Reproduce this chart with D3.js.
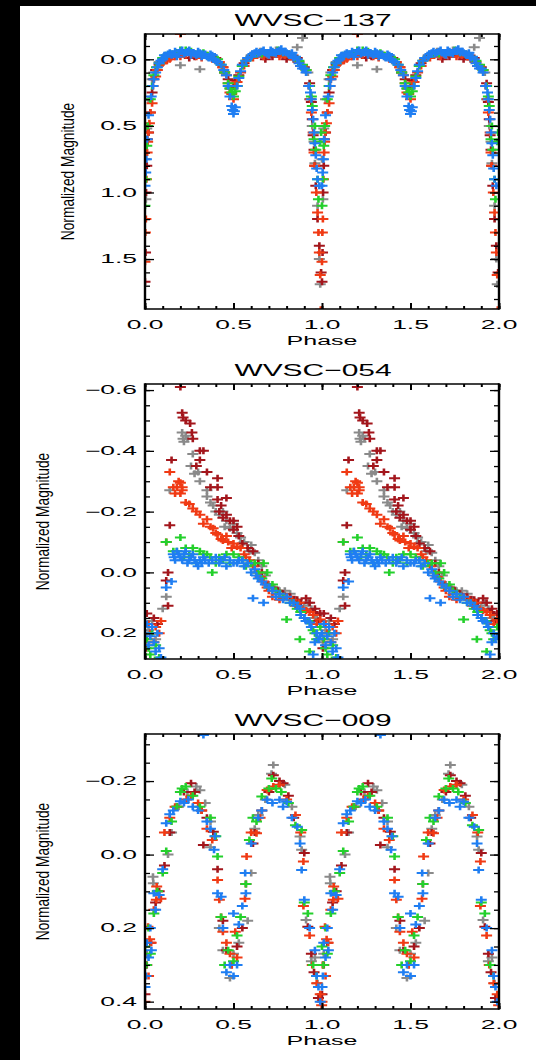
<!DOCTYPE html>
<html>
<head>
<meta charset="utf-8">
<script src="https://cdn.jsdelivr.net/npm/d3@7"></script>
<style>
  html, body { margin: 0; padding: 0; background: #000; }
  svg { display: block; }
</style>
</head>
<body>
<svg id="chart" width="536" height="1060"></svg>
<script>
// ---- shared axis data ----
const phaseTicks = [0, 0.5, 1, 1.5, 2];
const phaseTickLabels = ["0.0", "0.5", "1.0", "1.5", "2.0"];
const titles = ["WVSC\u2212137", "WVSC\u2212054", "WVSC\u2212009"];
const seriesNames = ["grey", "darkred", "red", "green", "blue"];
const seriesColors = ["#8a8a8a", "#a3161c", "#f03a14", "#24d02c", "#1f7ef2"];

// ---- WVSC-137 : [phase, normalized magnitude] ----
const w137Grey = [[0.0,0.75],[0.005,1.05],[0.01,0.52],[0.02,0.3],[0.04,0.15],[0.05,0.1],[0.08,0.02],[0.12,-0.02],[0.15,-0.03],[0.2,0.045],[0.25,-0.05],[0.31,0.075],[0.33,-0.04],[0.37,-0.02],[0.42,0.03],[0.45,0.1],[0.48,0.22],[0.52,0.2],[0.55,0.05],[0.6,-0.03],[0.65,-0.06],[0.7,-0.05],[0.74,-0.07],[0.78,-0.04],[0.82,-0.04],[0.86,-0.09],[0.89,-0.16],[0.92,0.1],[0.93,0.3],[0.945,0.5],[0.955,0.62],[0.96,0.78],[0.975,1.1],[0.985,1.5],[0.99,1.69]];
const w137DarkRed = [[0.0,1.67],[0.003,1.45],[0.006,1.0],[0.01,0.8],[0.013,0.6],[0.02,0.55],[0.03,0.4],[0.04,0.25],[0.05,0.15],[0.06,0.08],[0.08,0.04],[0.1,0.02],[0.12,0.0],[0.15,-0.02],[0.18,-0.03],[0.22,-0.04],[0.25,-0.01],[0.28,-0.02],[0.33,-0.03],[0.36,-0.02],[0.4,-0.01],[0.44,0.06],[0.45,0.1],[0.47,0.15],[0.485,0.22],[0.5,0.2],[0.51,0.16],[0.53,0.12],[0.56,0.03],[0.6,-0.02],[0.62,-0.03],[0.66,-0.04],[0.68,0.0],[0.72,-0.02],[0.75,-0.04],[0.78,-0.03],[0.8,0.0],[0.84,0.0],[0.86,-0.01],[0.88,0.05],[0.9,0.06],[0.93,0.18],[0.94,0.32],[0.945,0.45],[0.95,0.57],[0.955,0.68],[0.96,0.8],[0.965,0.95],[0.975,1.2],[0.985,1.4],[0.995,1.6]];
const w137Red = [[0.0,1.52],[0.002,1.3],[0.005,1.2],[0.008,0.9],[0.012,0.7],[0.015,0.62],[0.018,0.55],[0.025,0.48],[0.03,0.4],[0.04,0.33],[0.045,0.2],[0.06,0.13],[0.07,0.08],[0.09,0.03],[0.1,0.03],[0.12,0.01],[0.14,0.0],[0.17,-0.02],[0.2,-0.19],[0.2,-0.02],[0.23,-0.03],[0.26,-0.03],[0.29,-0.02],[0.32,-0.01],[0.35,-0.03],[0.38,0.0],[0.42,0.02],[0.44,0.06],[0.46,0.12],[0.47,0.18],[0.48,0.25],[0.49,0.26],[0.5,0.3],[0.51,0.2],[0.52,0.17],[0.54,0.1],[0.56,0.05],[0.58,0.0],[0.61,-0.01],[0.64,-0.04],[0.67,-0.02],[0.7,-0.03],[0.73,-0.04],[0.76,-0.02],[0.79,-0.03],[0.82,-0.02],[0.85,0.0],[0.87,0.02],[0.89,0.05],[0.91,0.08],[0.925,0.2],[0.935,0.3],[0.94,0.4],[0.95,0.55],[0.955,0.7],[0.958,0.8],[0.968,1.0],[0.975,1.15],[0.98,1.3],[0.985,1.45],[0.99,1.62],[0.993,1.88]];
const w137Green = [[0.0,1.1],[0.005,0.9],[0.01,0.65],[0.015,0.5],[0.03,0.3],[0.04,0.2],[0.05,0.12],[0.065,0.06],[0.08,0.03],[0.1,-0.01],[0.12,-0.03],[0.15,-0.04],[0.18,-0.05],[0.2,-0.07],[0.23,-0.07],[0.26,-0.06],[0.3,-0.04],[0.33,-0.05],[0.36,-0.02],[0.39,-0.01],[0.41,0.0],[0.43,0.04],[0.45,0.1],[0.47,0.18],[0.48,0.22],[0.49,0.25],[0.5,0.28],[0.51,0.24],[0.52,0.2],[0.53,0.13],[0.55,0.05],[0.57,0.01],[0.6,-0.02],[0.63,-0.04],[0.66,-0.04],[0.69,-0.05],[0.72,-0.05],[0.75,-0.07],[0.78,-0.05],[0.81,-0.04],[0.84,-0.02],[0.87,0.01],[0.89,0.04],[0.91,0.08],[0.93,0.2],[0.94,0.28],[0.945,0.35],[0.955,0.6],[0.96,0.5],[0.965,0.68],[0.975,0.9],[0.98,1.05],[0.99,0.62],[0.995,0.55]];
const w137Blue = [[0.0,0.95],[0.004,0.85],[0.008,0.75],[0.012,0.6],[0.02,0.42],[0.035,0.28],[0.045,0.2],[0.05,0.15],[0.06,0.1],[0.07,0.06],[0.08,0.03],[0.09,0.01],[0.1,0.0],[0.11,-0.03],[0.12,-0.02],[0.13,-0.04],[0.14,-0.05],[0.15,-0.03],[0.16,-0.04],[0.17,-0.06],[0.18,-0.02],[0.19,-0.04],[0.2,-0.06],[0.21,-0.07],[0.22,-0.04],[0.23,-0.05],[0.24,-0.06],[0.25,-0.07],[0.26,-0.03],[0.27,-0.05],[0.28,-0.04],[0.29,-0.03],[0.3,-0.06],[0.31,-0.05],[0.32,-0.02],[0.33,-0.03],[0.34,-0.04],[0.35,-0.02],[0.36,-0.01],[0.37,-0.04],[0.38,-0.03],[0.39,0.0],[0.4,0.01],[0.41,0.02],[0.43,0.04],[0.445,0.08],[0.46,0.12],[0.47,0.2],[0.48,0.28],[0.49,0.35],[0.495,0.38],[0.5,0.41],[0.505,0.39],[0.51,0.36],[0.52,0.2],[0.53,0.14],[0.54,0.09],[0.55,0.04],[0.57,0.01],[0.58,-0.01],[0.6,-0.02],[0.61,-0.04],[0.62,-0.05],[0.63,-0.06],[0.64,-0.04],[0.65,-0.05],[0.66,-0.06],[0.67,-0.07],[0.68,-0.05],[0.69,-0.04],[0.7,-0.03],[0.71,-0.07],[0.72,-0.06],[0.73,-0.05],[0.74,-0.04],[0.75,-0.06],[0.76,-0.07],[0.77,-0.08],[0.78,-0.05],[0.79,-0.06],[0.8,-0.05],[0.81,-0.04],[0.82,-0.03],[0.83,-0.05],[0.84,-0.01],[0.85,-0.02],[0.86,0.0],[0.87,0.03],[0.88,0.05],[0.89,0.07],[0.9,0.07],[0.91,0.1],[0.925,0.2],[0.935,0.25],[0.94,0.3],[0.945,0.38],[0.95,0.45],[0.955,0.55],[0.96,0.63],[0.965,0.72],[0.97,0.82],[0.975,0.9],[0.985,0.95]];
const w137MagTicks = [0, 0.5, 1.0, 1.5];
const w137MagLabels = ["0.0", "0.5", "1.0", "1.5"];

// ---- WVSC-054 ----
const w054Grey = [[0.005,0.23],[0.02,0.19],[0.04,0.16],[0.06,0.22],[0.1,0.12],[0.12,0.08],[0.14,-0.27],[0.21,-0.46],[0.215,-0.44],[0.22,-0.43],[0.23,-0.45],[0.24,-0.44],[0.27,-0.39],[0.26,-0.35],[0.28,-0.325],[0.3,-0.33],[0.31,-0.3],[0.35,-0.27],[0.35,-0.25],[0.37,-0.23],[0.385,-0.22],[0.4,-0.2],[0.42,-0.19],[0.44,-0.2],[0.45,-0.15],[0.46,-0.17],[0.48,-0.145],[0.5,-0.16],[0.52,-0.13],[0.54,-0.115],[0.56,-0.1],[0.59,-0.07],[0.6,-0.09],[0.62,-0.065],[0.64,-0.04],[0.66,-0.02],[0.68,0.01],[0.7,0.04],[0.73,0.05],[0.76,0.06],[0.79,0.06],[0.82,0.07],[0.85,0.09],[0.875,0.1],[0.9,0.11],[0.92,0.1],[0.94,0.12],[0.96,0.15],[0.97,0.14],[0.99,0.17]];
const w054DarkRed = [[0.005,0.25],[0.01,0.135],[0.03,0.2],[0.05,0.15],[0.07,0.17],[0.12,0.027],[0.13,0.0],[0.13,0.11],[0.14,-0.155],[0.15,-0.37],[0.2,-0.61],[0.21,-0.525],[0.215,-0.51],[0.23,-0.5],[0.255,-0.49],[0.265,-0.46],[0.27,-0.44],[0.29,-0.35],[0.31,-0.4],[0.33,-0.4],[0.31,-0.37],[0.35,-0.33],[0.37,-0.28],[0.41,-0.31],[0.41,-0.28],[0.41,-0.24],[0.43,-0.22],[0.44,-0.18],[0.46,-0.245],[0.42,-0.2],[0.46,-0.19],[0.48,-0.17],[0.5,-0.14],[0.5,-0.17],[0.52,-0.15],[0.53,-0.12],[0.55,-0.095],[0.58,-0.08],[0.61,-0.07],[0.64,-0.03],[0.66,0.0],[0.69,0.04],[0.72,0.05],[0.75,0.06],[0.78,0.07],[0.82,0.08],[0.84,0.09],[0.86,0.09],[0.88,0.1],[0.91,0.085],[0.93,0.1],[0.95,0.13],[0.96,0.12],[0.98,0.16],[0.99,0.135]];
const w054Red = [[0.01,0.22],[0.02,0.17],[0.03,0.2],[0.05,0.23],[0.06,0.18],[0.08,0.2],[0.09,0.16],[0.12,-0.1],[0.14,-0.33],[0.16,-0.28],[0.17,-0.26],[0.18,-0.28],[0.19,-0.3],[0.2,-0.295],[0.21,-0.28],[0.2,-0.26],[0.21,-0.27],[0.23,-0.23],[0.25,-0.225],[0.27,-0.21],[0.29,-0.2],[0.31,-0.19],[0.33,-0.16],[0.35,-0.175],[0.37,-0.15],[0.385,-0.145],[0.4,-0.13],[0.41,-0.125],[0.43,-0.11],[0.44,-0.105],[0.46,-0.12],[0.47,-0.1],[0.49,-0.08],[0.5,-0.095],[0.52,-0.085],[0.54,-0.08],[0.56,-0.06],[0.57,-0.05],[0.59,-0.04],[0.61,-0.02],[0.63,0.0],[0.65,0.015],[0.67,0.03],[0.69,0.05],[0.7,0.06],[0.72,0.08],[0.74,0.07],[0.76,0.09],[0.78,0.085],[0.8,0.08],[0.83,0.09],[0.85,0.11],[0.87,0.1],[0.89,0.12],[0.91,0.125],[0.93,0.13],[0.95,0.14],[0.97,0.17],[0.99,0.155]];
const w054Green = [[0.01,0.22],[0.02,0.25],[0.03,0.27],[0.04,0.2],[0.06,0.24],[0.08,0.28],[0.12,-0.1],[0.16,-0.07],[0.18,-0.07],[0.2,-0.115],[0.22,-0.05],[0.23,-0.08],[0.25,-0.06],[0.27,-0.08],[0.29,-0.03],[0.31,-0.07],[0.33,-0.06],[0.35,-0.06],[0.37,-0.05],[0.38,0.0],[0.4,-0.03],[0.42,-0.05],[0.44,-0.04],[0.46,-0.06],[0.48,-0.03],[0.5,-0.06],[0.53,-0.05],[0.55,-0.04],[0.57,-0.02],[0.6,-0.03],[0.62,-0.03],[0.64,0.0],[0.66,0.02],[0.67,-0.03],[0.69,0.0],[0.7,0.05],[0.72,0.04],[0.74,0.06],[0.76,0.07],[0.78,0.08],[0.8,0.155],[0.82,0.1],[0.84,0.1],[0.86,0.12],[0.875,0.22],[0.88,0.13],[0.9,0.15],[0.92,0.16],[0.93,0.26],[0.95,0.19],[0.96,0.2],[0.97,0.22],[0.99,0.18]];
const w054Blue = [[0.0,0.2],[0.01,0.17],[0.02,0.24],[0.03,0.21],[0.04,0.18],[0.05,0.23],[0.06,0.26],[0.07,0.2],[0.08,0.25],[0.09,0.28],[0.12,0.05],[0.15,0.03],[0.16,-0.06],[0.165,-0.05],[0.17,-0.04],[0.18,-0.07],[0.19,-0.06],[0.2,-0.05],[0.21,-0.04],[0.22,-0.06],[0.23,-0.07],[0.24,-0.03],[0.25,-0.04],[0.26,-0.05],[0.27,-0.06],[0.28,-0.04],[0.29,-0.03],[0.3,-0.02],[0.31,-0.04],[0.32,-0.03],[0.33,-0.05],[0.34,-0.04],[0.36,-0.03],[0.38,-0.04],[0.4,-0.05],[0.42,-0.03],[0.43,-0.04],[0.45,-0.05],[0.46,-0.02],[0.48,-0.04],[0.5,-0.03],[0.52,-0.03],[0.53,-0.04],[0.55,-0.04],[0.56,-0.02],[0.58,-0.03],[0.6,0.0],[0.61,0.085],[0.62,-0.01],[0.63,0.01],[0.64,0.02],[0.66,0.03],[0.67,0.1],[0.68,0.04],[0.7,0.05],[0.72,0.06],[0.74,0.08],[0.76,0.07],[0.78,0.09],[0.8,0.08],[0.82,0.1],[0.84,0.1],[0.86,0.11],[0.875,0.12],[0.88,0.14],[0.9,0.15],[0.91,0.16],[0.93,0.165],[0.94,0.18],[0.95,0.27],[0.96,0.23],[0.97,0.2],[0.98,0.22],[0.99,0.21]];
const w054MagTicks = [-0.6, -0.4, -0.2, 0, 0.2];
const w054MagLabels = ["\u22120.6", "\u22120.4", "\u22120.2", "0.0", "0.2"];

// ---- WVSC-009 ----
const w009Grey = [[0.005,0.3],[0.01,0.27],[0.045,0.06],[0.047,0.078],[0.07,0.1],[0.13,0.0],[0.15,-0.06],[0.19,-0.13],[0.24,-0.17],[0.29,-0.185],[0.31,-0.175],[0.34,-0.14],[0.37,-0.09],[0.37,-0.02],[0.42,0.2],[0.44,0.26],[0.48,0.336],[0.5,0.27],[0.53,0.24],[0.58,0.18],[0.6,0.05],[0.62,-0.07],[0.64,-0.108],[0.68,-0.15],[0.715,-0.22],[0.725,-0.244],[0.79,-0.19],[0.83,-0.13],[0.876,-0.049],[0.885,-0.013],[0.91,0.178],[0.94,0.29],[0.96,0.28],[0.975,0.35]];
const w009DarkRed = [[0.0,0.38],[0.01,0.3],[0.03,0.24],[0.06,0.13],[0.08,0.1],[0.11,0.03],[0.14,-0.06],[0.18,-0.13],[0.22,-0.17],[0.26,-0.194],[0.28,-0.17],[0.32,-0.12],[0.35,-0.1],[0.386,-0.062],[0.33,-0.026],[0.41,0.04],[0.44,0.18],[0.46,0.26],[0.49,0.3],[0.52,0.25],[0.55,0.2],[0.57,0.08],[0.61,-0.03],[0.62,-0.06],[0.66,-0.12],[0.7,-0.17],[0.725,-0.216],[0.76,-0.2],[0.78,-0.194],[0.81,-0.16],[0.84,-0.1],[0.9,-0.004],[0.92,0.196],[0.94,0.27],[0.955,0.32],[0.98,0.39]];
const w009Red = [[0.0,0.4],[0.005,0.3],[0.017,0.196],[0.02,0.33],[0.026,0.23],[0.035,0.24],[0.05,0.15],[0.064,0.123],[0.066,0.087],[0.09,0.12],[0.11,-0.06],[0.14,-0.1],[0.17,-0.13],[0.235,-0.15],[0.26,-0.16],[0.3,-0.14],[0.32,-0.12],[0.35,-0.07],[0.38,-0.04],[0.41,0.069],[0.42,0.123],[0.43,0.17],[0.44,0.21],[0.46,0.24],[0.48,0.27],[0.49,0.3],[0.51,0.21],[0.52,0.28],[0.565,0.12],[0.574,0.005],[0.6,-0.06],[0.63,-0.058],[0.65,-0.1],[0.69,-0.176],[0.725,-0.185],[0.76,-0.19],[0.8,-0.15],[0.85,-0.108],[0.88,-0.06],[0.895,0.019],[0.895,0.14],[0.93,0.22],[0.945,0.3],[0.97,0.35],[0.99,0.38],[0.998,0.41]];
const w009Green = [[0.0,0.25],[0.008,0.3],[0.02,0.2],[0.03,0.27],[0.05,0.16],[0.07,0.1],[0.1,0.05],[0.12,-0.01],[0.15,-0.09],[0.18,-0.13],[0.2,-0.17],[0.21,-0.18],[0.23,-0.185],[0.27,-0.16],[0.31,-0.13],[0.37,-0.1],[0.4,-0.05],[0.41,0.005],[0.43,0.17],[0.45,0.3],[0.47,0.26],[0.5,0.29],[0.52,0.22],[0.54,0.17],[0.57,0.08],[0.59,-0.04],[0.61,-0.1],[0.63,-0.09],[0.66,-0.158],[0.7,-0.18],[0.716,-0.207],[0.74,-0.18],[0.77,-0.17],[0.81,-0.14],[0.85,-0.08],[0.885,-0.067],[0.9,0.13],[0.92,0.16],[0.95,0.3],[0.97,0.33]];
const w009Blue = [[0.0,0.36],[0.005,0.33],[0.01,0.24],[0.02,0.28],[0.03,0.2],[0.036,0.26],[0.05,0.105],[0.06,0.15],[0.08,0.11],[0.1,0.04],[0.12,-0.085],[0.14,-0.11],[0.16,-0.12],[0.2,-0.145],[0.22,-0.14],[0.245,-0.15],[0.27,-0.13],[0.3,-0.12],[0.33,-0.325],[0.35,-0.09],[0.37,-0.07],[0.395,-0.05],[0.39,-0.013],[0.41,0.105],[0.43,0.115],[0.44,0.2],[0.46,0.32],[0.48,0.3],[0.5,0.16],[0.5,0.33],[0.52,0.3],[0.53,0.19],[0.55,0.14],[0.57,0.105],[0.566,0.05],[0.6,-0.03],[0.64,-0.1],[0.66,-0.12],[0.69,-0.149],[0.72,-0.14],[0.76,-0.149],[0.78,-0.13],[0.8,-0.144],[0.83,-0.1],[0.86,-0.076],[0.876,-0.03],[0.885,0.042],[0.9,0.123],[0.93,0.2],[0.96,0.26],[0.97,0.33],[0.98,0.36],[0.99,0.4]];
const w009MagTicks = [-0.2, 0, 0.2, 0.4];
const w009MagLabels = ["\u22120.2", "0.0", "0.2", "0.4"];

// ---- panel definitions ----
const panels = [
  { title: titles[0], series: [w137Grey, w137DarkRed, w137Red, w137Green, w137Blue],
    domain: [-0.19, 1.875], ticks: w137MagTicks, labels: w137MagLabels, minor: 0.1, ylabelX: 68 },
  { title: titles[1], series: [w054Grey, w054DarkRed, w054Red, w054Green, w054Blue],
    domain: [-0.62, 0.285], ticks: w054MagTicks, labels: w054MagLabels, minor: 0.05, ylabelX: 43 },
  { title: titles[2], series: [w009Grey, w009DarkRed, w009Red, w009Green, w009Blue],
    domain: [-0.328, 0.42], ticks: w009MagTicks, labels: w009MagLabels, minor: 0.05, ylabelX: 43 }
];

const svg = d3.select("#chart");
svg.append("rect").attr("width", 536).attr("height", 1060).attr("fill", "#000");
svg.append("rect").attr("x", 20).attr("y", 6).attr("width", 516).attr("height", 1054).attr("fill", "#fff");
const defs = svg.append("defs");

const left = 145, right = 499, plotH = 275;
const FONT = "'Liberation Sans', Arial, sans-serif";

// widen a text element by a factor (glyphs and spacing), keeping its anchor
function stretch(sel, k) {
  sel.each(function () {
    const n = this.getComputedTextLength();
    d3.select(this).attr("textLength", n * k).attr("lengthAdjust", "spacingAndGlyphs");
  });
}

function range(a, b, step) {
  const out = [];
  const start = Math.ceil(a / step - 1e-9);
  const end = Math.floor(b / step + 1e-9);
  for (let i = start; i <= end; i++) out.push(+(i * step).toFixed(4));
  return out;
}

panels.forEach((p, i) => {
  const top = 34 + i * 350;
  const bottom = top + plotH;
  const x = d3.scaleLinear().domain([0, 2]).range([left, right]);
  const y = d3.scaleLinear().domain(p.domain).range([top, bottom]);
  const g = svg.append("g").attr("class", "panel");

  defs.append("clipPath").attr("id", "clip" + i)
    .append("rect").attr("x", left).attr("y", top).attr("width", right - left).attr("height", plotH);

  // light-curve points, phase-folded and shown over two cycles
  const marks = g.append("g").attr("clip-path", `url(#clip${i})`);
  p.series.forEach((pts, k) => {
    const doubled = pts.flatMap(d => [[d[0], d[1]], [d[0] + 1, d[1]]]);
    marks.append("g").attr("class", seriesNames[k])
      .selectAll("path").data(doubled).join("path")
      .attr("transform", d => `translate(${x(d[0])},${y(d[1])})`)
      .attr("d", "M-5.5,-1h11v2h-11Z M-1.3,-3.5h2.6v7h-2.6Z")
      .attr("fill", seriesColors[k]);
  });

  // ticks on all four sides, pointing inward
  const minorX = range(0, 2, 0.1);
  const minorY = range(p.domain[0], p.domain[1], p.minor);
  const tickStyle = (sel, w) => {
    sel.select(".domain").remove();
    sel.selectAll("line").attr("stroke", "#000").attr("stroke-width", w);
    sel.selectAll("text").remove();
  };
  g.append("g").attr("transform", `translate(0,${bottom})`)
    .call(d3.axisBottom(x).tickValues(minorX).tickSize(-3)).call(tickStyle, 2);
  g.append("g").attr("transform", `translate(0,${bottom})`)
    .call(d3.axisBottom(x).tickValues(phaseTicks).tickSize(-6)).call(tickStyle, 2);
  g.append("g").attr("transform", `translate(0,${top})`)
    .call(d3.axisTop(x).tickValues(minorX).tickSize(-3)).call(tickStyle, 2);
  g.append("g").attr("transform", `translate(0,${top})`)
    .call(d3.axisTop(x).tickValues(phaseTicks).tickSize(-6)).call(tickStyle, 2);
  g.append("g").attr("transform", `translate(${left},0)`)
    .call(d3.axisLeft(y).tickValues(minorY).tickSize(-5)).call(tickStyle, 1.3);
  g.append("g").attr("transform", `translate(${left},0)`)
    .call(d3.axisLeft(y).tickValues(p.ticks).tickSize(-9)).call(tickStyle, 1.3);
  g.append("g").attr("transform", `translate(${right},0)`)
    .call(d3.axisRight(y).tickValues(minorY).tickSize(-5)).call(tickStyle, 1.3);
  g.append("g").attr("transform", `translate(${right},0)`)
    .call(d3.axisRight(y).tickValues(p.ticks).tickSize(-9)).call(tickStyle, 1.3);

  // frame: vertical sides drawn heavier than horizontal ones
  g.append("line").attr("x1", left).attr("x2", right).attr("y1", top).attr("y2", top)
    .attr("stroke", "#000").attr("stroke-width", 1.5);
  g.append("line").attr("x1", left).attr("x2", right).attr("y1", bottom).attr("y2", bottom)
    .attr("stroke", "#000").attr("stroke-width", 1.5);
  g.append("line").attr("x1", left).attr("x2", left).attr("y1", top - 0.75).attr("y2", bottom + 0.75)
    .attr("stroke", "#000").attr("stroke-width", 2.4);
  g.append("line").attr("x1", right).attr("x2", right).attr("y1", top - 0.75).attr("y2", bottom + 0.75)
    .attr("stroke", "#000").attr("stroke-width", 2.4);

  // tick labels
  g.append("g").selectAll("text").data(phaseTicks).join("text")
    .attr("x", d => x(d)).attr("y", bottom + 16).attr("dy", "0.36em")
    .attr("text-anchor", "middle").attr("font-family", FONT).attr("font-size", 12)
    .attr("fill", "#000").text((d, j) => phaseTickLabels[j])
    .call(stretch, 2.2);
  g.append("g").selectAll("text").data(p.ticks).join("text")
    .attr("x", left - 8).attr("y", d => y(d)).attr("dy", "0.36em")
    .attr("text-anchor", "end").attr("font-family", FONT).attr("font-size", 12)
    .attr("fill", "#000").text((d, j) => p.labels[j])
    .call(stretch, 2.2);

  // title and axis titles
  g.append("text").attr("x", 313).attr("y", top - 14).attr("dy", "0.36em")
    .attr("text-anchor", "middle").attr("font-family", FONT).attr("font-size", 17)
    .attr("fill", "#000").text(p.title).call(stretch, 1.76);
  g.append("text").attr("x", 322).attr("y", bottom + 31).attr("dy", "0.36em")
    .attr("text-anchor", "middle").attr("font-family", FONT).attr("font-size", 12.5)
    .attr("fill", "#000").text("Phase").call(stretch, 2.0);
  g.append("text")
    .attr("transform", `translate(${p.ylabelX},${(top + bottom) / 2}) scale(1.6,1) rotate(-90)`)
    .attr("dy", "0.36em").attr("text-anchor", "middle").attr("font-family", FONT).attr("font-size", 11)
    .attr("fill", "#000").text("Normalized Magnitude").call(stretch, 1.25);
});
</script>
</body>
</html>
